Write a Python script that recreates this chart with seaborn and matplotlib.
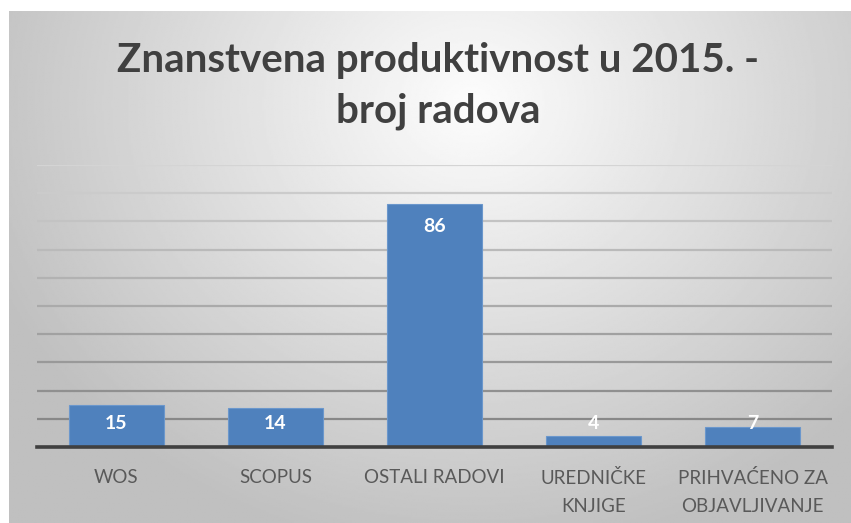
import numpy as np
import pandas as pd
import seaborn as sns
import matplotlib.pyplot as plt

categories = ["WOS", "SCOPUS", "OSTALI RADOVI", "UREDNIČKE\nKNJIGE", "PRIHVAĆENO ZA\nOBJAVLJIVANJE"]
values = [15, 14, 86, 4, 7]
title_lines = ["Znanstvena produktivnost u 2015. -", "broj radova"]

df = pd.DataFrame({"kategorija": categories, "broj": values})

sns.set_theme(style="white")
plt.rcParams['font.family'] = ['Lato', 'DejaVu Sans']

fig = plt.figure(figsize=(8.51, 5.23), dpi=100)
fig.patch.set_facecolor("white")

# pozadina s gradijentom (kao u Excelu)
bg = fig.add_axes([9 / 851, 0, 1 - 9 / 851, 1 - 11 / 523])
yy, xx = np.mgrid[0:1:300j, 0:1:500j]
dist = np.sqrt(((xx - 0.55) / 0.7) ** 2 + ((yy - 0.18) / 1.0) ** 2)
shade = np.clip(0.99 - 0.27 * dist, 0.75, 0.99)
bg.imshow(shade, cmap="gray", vmin=0, vmax=1, aspect="auto", extent=[0, 1, 1, 0])
bg.set_axis_off()

ax = fig.add_axes([37 / 851, 1 - 447 / 523, 795 / 851, (447 - 165) / 523])
ax.set_facecolor("none")
sns.barplot(data=df, x="kategorija", y="broj", color="#4F81BD", saturation=1,
            width=0.6, ax=ax, zorder=3, edgecolor="#6b97cc", linewidth=0.8)

ax.set_xlim(-0.5, len(categories) - 0.5)
ax.set_ylim(0, 100)
ax.set_yticks(np.arange(0, 101, 10))
ax.set_yticklabels([])
ax.tick_params(axis="y", length=0)
ax.tick_params(axis="x", length=0, pad=16, labelsize=13.5, labelcolor="#595959")
for lab in ax.get_xticklabels():
    lab.set_linespacing(1.75)
    lab.set_verticalalignment("top")
ax.set_xlabel("")
ax.set_ylabel("")

ax.yaxis.grid(True, linewidth=1.6)
for i, gl in enumerate(ax.get_ygridlines()):
    g = 0.50 + 0.33 * i / 10
    gl.set_color((g, g, g))
ax.set_axisbelow(True)

for s in ["top", "right", "left"]:
    ax.spines[s].set_visible(False)
ax.spines["bottom"].set_color("#404040")
ax.spines["bottom"].set_linewidth(2.6)
ax.spines["bottom"].set_zorder(4)

for i, v in enumerate(values):
    ax.text(i, max(v - 7.8, 8.2), str(v), ha="center", va="center",
            color="white", fontsize=14, fontweight="bold", zorder=5)

# naslov u dva retka, svaki na svojoj osnovnoj liniji
for line, y_px in zip(title_lines, [72, 123]):
    fig.text(0.515, 1 - y_px / 523, line, ha="center", va="baseline", fontsize=29,
             fontweight="bold", color="#404040")

fig.savefig("out.png", dpi=100)
